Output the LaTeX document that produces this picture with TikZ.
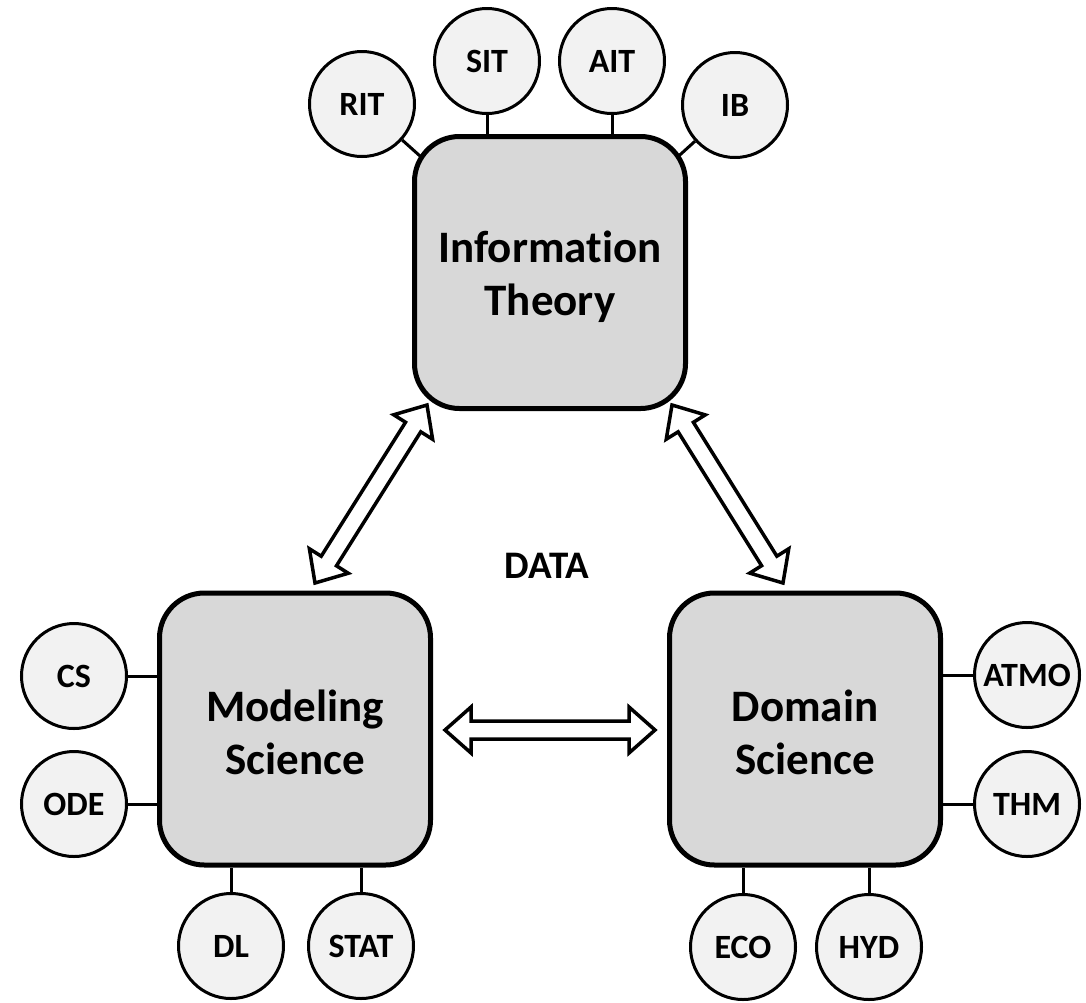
\documentclass[tikz,border=0pt]{standalone}
\usepackage{fontspec}
\setmainfont{Carlito}[RawFeature=-liga]
\usetikzlibrary{backgrounds,calc}
\definecolor{boxgray}{HTML}{D8D8D8}
\definecolor{leafgray}{HTML}{F2F2F2}
\newcommand\hubfont{\fontsize{45}{53}\selectfont\bfseries}
\newcommand\leaffont{\fontsize{34}{38}\selectfont\bfseries}
\newcommand\datafont{\fontsize{39}{44}\selectfont\bfseries}
% hollow two-headed arrow between two named points
\newcommand\twowayarrow[2]{%
  \draw[twoway] let \p1=(#1), \p2=(#2),
      \n1={atan2(\y2-\y1,\x2-\x1)}, \n2={veclen(\x2-\x1,\y2-\y1)} in
    {[shift={(\p1)}, rotate=\n1]
      (0,0) -- (26,23) -- (26,9) -- (\n2-26,9) -- (\n2-26,23) -- (\n2,0)
      -- (\n2-26,-23) -- (\n2-26,-9) -- (26,-9) -- (26,-23) -- cycle};
}
\begin{document}
\begin{tikzpicture}[x=1pt,y=-1pt,
  hub/.style={draw=black, line width=5pt, fill=boxgray, rounded corners=45pt,
    minimum width=271pt, minimum height=272pt, align=center, font=\hubfont,
    inner sep=0pt},
  hubtext/.style={align=center, font=\hubfont, inner sep=0pt},
  leaf/.style={circle, draw=black, line width=3pt, fill=leafgray,
    minimum size=105pt, inner sep=0pt, font=\leaffont},
  link/.style={draw=black, line width=3pt},
  twoway/.style={draw=black, line width=3.5pt, fill=white, line join=miter}
]
\useasboundingbox (0,0) rectangle (1086,1002);

% the three fields
\node[hub] (info)  at (550,272.5) {};
\node[hub] (model) at (295,729)   {};
\node[hub] (domain) at (805,729)  {};
\node[hubtext] (info-t)   at ([yshift=-4pt]info.center)   {Information\\Theory};
\node[hubtext] (model-t)  at ([yshift=-3pt]model.center)  {Modeling\\Science};
\node[hubtext] (domain-t) at ([yshift=-3pt]domain.center) {Domain\\Science};

% sub-areas of information theory
\node[leaf] (rit)  at (362,104) {RIT};
\node[leaf] (sit)  at (487,61)  {SIT};
\node[leaf] (ait)  at (612,61)  {AIT};
\node[leaf] (ib)   at (735,105) {IB};

% sub-areas of modeling science
\node[leaf] (cs)   at (74,676)  {CS};
\node[leaf] (ode)  at (74,804)  {ODE};
\node[leaf] (dl)   at (231,946) {DL};
\node[leaf] (stat) at (361,946) {STAT};

% sub-areas of domain science
\node[leaf] (atmo) at (1027,675) {ATMO};
\node[leaf] (thm)  at (1027,804) {THM};
\node[leaf] (eco)  at (743,947)  {ECO};
\node[leaf] (hyd)  at (869,947)  {HYD};

\node[font=\datafont] (data) at (547,566) {DATA};

% white page, then the links from sub-areas to their field behind the shapes
\begin{scope}[on background layer]
  \fill[white] (0,0) rectangle (1086,1002);
  \draw[link] (rit) -- (info.center);
  \draw[link] (ib) -- (info.center);
  \draw[link] (sit) -- (sit |- info.north);
  \draw[link] (ait) -- (ait |- info.north);
  \draw[link] (cs) -- (cs -| model.west);
  \draw[link] (ode) -- (ode -| model.west);
  \draw[link] (dl) -- (dl |- model.south);
  \draw[link] (stat) -- (stat |- model.south);
  \draw[link] (atmo) -- (atmo -| domain.east);
  \draw[link] (thm) -- (thm -| domain.east);
  \draw[link] (eco) -- (eco |- domain.south);
  \draw[link] (hyd) -- (hyd |- domain.south);
\end{scope}

% exchange arrows between the fields
\coordinate (mi-low)  at (315,583);
\coordinate (mi-high) at (427,405);
\coordinate (di-high) at (672,405);
\coordinate (di-low)  at (783,583);
\coordinate (md-left)  at (445,730);
\coordinate (md-right) at (655,730);
\twowayarrow{mi-low}{mi-high}
\twowayarrow{di-high}{di-low}
\twowayarrow{md-left}{md-right}
\end{tikzpicture}
\end{document}
